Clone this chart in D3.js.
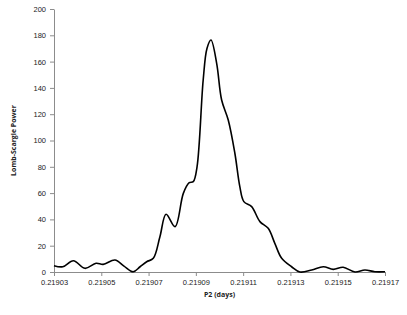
<!DOCTYPE html>
<html>
<head>
<meta charset="utf-8">
<script src="https://d3js.org/d3.v7.min.js"></script>
<style>
	body { margin: 0; background: #fff; }
	svg { display: block; }
	.tick text { font-family: "Liberation Sans", Arial, sans-serif; font-size: 7.5px; fill: #222; }
	.axis-title { font-family: "Open Sans", "Liberation Sans", sans-serif; font-size: 7px; font-weight: bold; fill: #222; }
</style>
</head>
<body>
<div id="chart"></div>
<script>
// period P2 (days) and Lomb-Scargle power
var period = [0.219030, 0.2190337, 0.2190382, 0.2190431, 0.2190478, 0.2190508, 0.2190558, 0.2190596,
	0.2190635, 0.2190664, 0.2190692, 0.2190720, 0.2190748, 0.2190774, 0.2190812, 0.2190847,
	0.2190872, 0.2190889, 0.2190905, 0.2190931, 0.2190947, 0.2190964, 0.2190988, 0.2191009,
	0.2191037, 0.2191065, 0.2191086, 0.2191103, 0.2191136, 0.2191171, 0.2191206, 0.2191234,
	0.2191263, 0.2191305, 0.2191340, 0.2191390, 0.2191439, 0.2191481, 0.2191523, 0.2191573,
	0.2191615, 0.2191657, 0.2191700];
var power = [4.8, 4.0, 8.6, 2.8, 6.6, 5.8, 9.1, 4.5,
	0.2, 4.0, 7.8, 10.4, 26.8, 43.9, 34.5, 59.8,
	67.9, 68.7, 80, 146, 170, 176.4, 158.7, 130.8,
	115.6, 90.3, 64.9, 53.5, 49.7, 38.3, 33.2, 21.8,
	10.4, 4.0, 0, 1.5, 4.0, 2.0, 3.6, 0,
	1.5, 0.2, 0.2];
var xTicks = [0.21903, 0.21905, 0.21907, 0.21909, 0.21911, 0.21913, 0.21915, 0.21917];
var yTicks = [0, 20, 40, 60, 80, 100, 120, 140, 160, 180, 200];

var width = 407, height = 315;
var margin = {top: 9, right: 22, bottom: 43, left: 54};

var svg = d3.select("#chart").append("svg")
	.attr("width", width)
	.attr("height", height);

var x = d3.scaleLinear()
	.domain([0.21903, 0.21917])
	.range([margin.left, width - margin.right]);

var y = d3.scaleLinear()
	.domain([0, 200])
	.range([height - margin.bottom, margin.top]);

var xAxis = svg.append("g")
	.attr("transform", "translate(0," + (height - margin.bottom) + ")")
	.call(d3.axisBottom(x).tickValues(xTicks).tickFormat(d3.format(".5f")).tickSize(4).tickSizeOuter(0).tickPadding(4));

var yAxis = svg.append("g")
	.attr("transform", "translate(" + margin.left + ",0)")
	.call(d3.axisLeft(y).tickValues(yTicks).tickSize(4).tickSizeOuter(0).tickPadding(4));

svg.selectAll(".domain, .tick line").attr("stroke", "#8c8c8c");

var data = period.map(function(d, i) { return {p: d, v: power[i]}; });

var line = d3.line()
	.x(function(d) { return x(d.p); })
	.y(function(d) { return y(d.v); })
	.curve(d3.curveCatmullRom.alpha(0.5));

svg.append("path")
	.datum(data)
	.attr("fill", "none")
	.attr("stroke", "#000")
	.attr("stroke-width", 1.6)
	.attr("d", line);

svg.append("text")
	.attr("class", "axis-title")
	.attr("x", (x.range()[0] + x.range()[1]) / 2)
	.attr("y", 297)
	.attr("text-anchor", "middle")
	.text("P2 (days)");

svg.append("text")
	.attr("class", "axis-title")
	.attr("transform", "translate(16," + ((y.range()[0] + y.range()[1]) / 2) + ") rotate(-90)")
	.attr("text-anchor", "middle")
	.text("Lomb-Scargle Power");
</script>
</body>
</html>
